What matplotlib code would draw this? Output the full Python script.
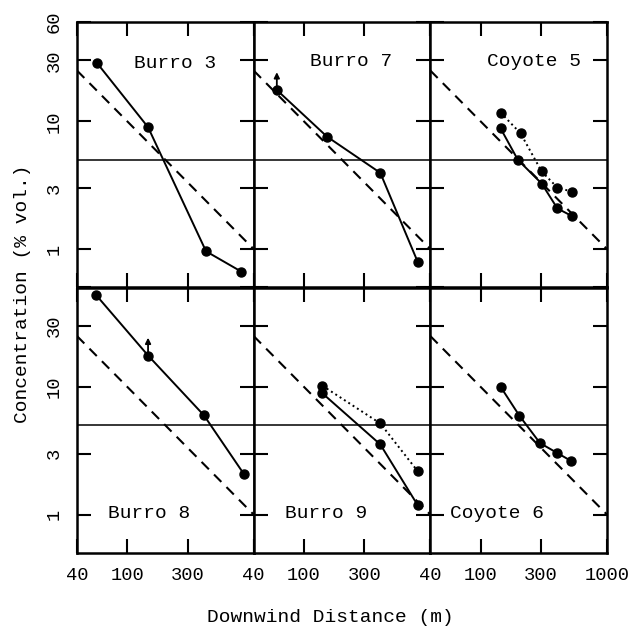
import numpy as np
import matplotlib
matplotlib.use("Agg")
import matplotlib.pyplot as plt
from matplotlib.ticker import NullLocator

plt.rcParams['font.family'] = ['Liberation Mono', 'DejaVu Sans Mono']

# Reference line C = 1000 / x and the 5 % level
ref_x = [40, 1000]
ref_y = [25, 1]
level = 5

# Panel names (row by row)
names = ["Burro 3", "Burro 7", "Coyote 5", "Burro 8", "Burro 9", "Coyote 6"]

# measured (solid) series
b3_x = [58, 146, 420, 800]
b3_y = [28.4, 9.0, 0.96, 0.665]
b7_x = [61, 152, 402, 796]
b7_y = [17.6, 7.6, 3.95, 0.79]
c5_x = [144, 197, 304, 405, 524]
c5_y = [8.8, 5.0, 3.26, 2.08, 1.82]
b8_x = [57, 146, 405, 836]
b8_y = [52, 17.6, 5.97, 2.08]
b9_x = [140, 402, 796]
b9_y = [8.9, 3.54, 1.18]
c6_x = [144, 203, 295, 405, 516]
c6_y = [10.0, 5.93, 3.63, 3.03, 2.64]

# second (dotted) series
c5_dot_x = [144, 207, 304, 405, 524]
c5_dot_y = [11.7, 8.06, 4.05, 3.03, 2.82]
b9_dot_x = [140, 402, 796]
b9_dot_y = [10.2, 5.17, 2.18]

solid = [(b3_x, b3_y), (b7_x, b7_y), (c5_x, c5_y),
         (b8_x, b8_y), (b9_x, b9_y), (c6_x, c6_y)]
dotted = {2: (c5_dot_x, c5_dot_y), 4: (b9_dot_x, b9_dot_y)}
# points that carry an upward arrow (panel, x, y)
arrows = [(1, 61, 17.6), (3, 146, 17.6)]

# where the panel names sit, in axes fractions
name_pos = [(0.555, 0.842), (0.55, 0.85), (0.587, 0.85),
            (0.407, 0.147), (0.41, 0.147), (0.377, 0.147)]

fig = plt.figure(figsize=(6.37, 6.31), dpi=100)
left, right, top, bottom = 77 / 637, 607 / 637, 1 - 22 / 631, 1 - 553 / 631
w = (right - left) / 3
h = (top - bottom) / 2

axes = []
for i in range(6):
    r, c = divmod(i, 3)
    ax = fig.add_axes([left + c * w, top - (r + 1) * h, w, h])
    axes.append(ax)
    ax.set_xscale('log')
    ax.set_yscale('log')
    ax.set_xlim(40, 1000)
    ax.set_ylim(0.5, 60)

    ax.plot(ref_x, ref_y, color='black', lw=1.5, dashes=(5, 3.5))
    ax.axhline(level, color='black', lw=1.1)
    sx, sy = solid[i]
    ax.plot(sx, sy, color='black', lw=1.4, marker='o', ms=6.5)
    if i in dotted:
        dx, dy = dotted[i]
        ax.plot(dx, dy, color='black', lw=1.4, ls=':', marker='o', ms=6.5)

    for k, ax_x, ax_y in arrows:
        if k == i:
            ax.annotate('', xy=(ax_x, ax_y * 1.45), xytext=(ax_x, ax_y),
                        arrowprops=dict(arrowstyle='-|>', color='black',
                                        lw=1.3, mutation_scale=8))

    tx, ty = name_pos[i]
    ax.text(tx, ty, names[i], transform=ax.transAxes,
            ha='center', va='center', fontsize=14)

    ax.xaxis.set_minor_locator(NullLocator())
    ax.yaxis.set_minor_locator(NullLocator())
    ax.set_xticks([40, 100, 300, 1000])
    ax.set_yticks([1, 3, 10, 30, 60])
    if r == 1:
        ax.set_xticklabels(['40', '100', '300', '1000' if c == 2 else ''])
    else:
        ax.set_xticklabels([])
    if c == 0:
        ax.set_yticklabels(['1', '3', '10', '30', '60' if r == 0 else ''],
                           rotation=90, va='center')
    else:
        ax.set_yticklabels([])
    ax.tick_params(which='both', direction='in', top=True, right=True,
                   length=10, width=1.5, labelsize=13.5, pad=10)
    for sp in ax.spines.values():
        sp.set_linewidth(1.8)

fig.text(0.035, 1 - 294 / 631, 'Concentration (% vol.)', rotation=90,
         ha='center', va='center', fontsize=14)
fig.text(330 / 637, 1 - 617 / 631, 'Downwind Distance (m)',
         ha='center', va='center', fontsize=14)

fig.savefig('out.png', dpi=100)
